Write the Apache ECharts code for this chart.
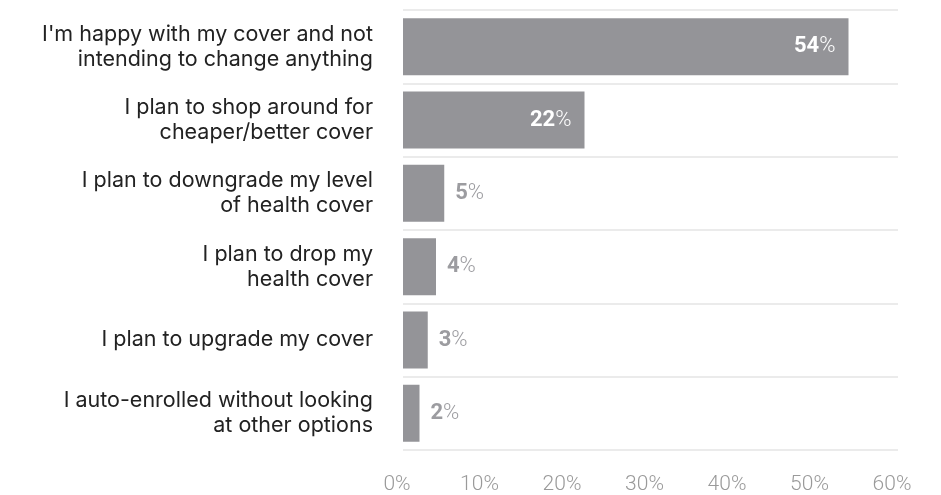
<!DOCTYPE html>
<html>
<head>
<meta charset="utf-8">
<script src="https://cdn.jsdelivr.net/npm/echarts@6/dist/echarts.min.js"></script>
<style>
  html, body { margin: 0; padding: 0; background: #ffffff; }
  #chart { width: 941px; height: 495px; }
</style>
</head>
<body>
<div id="chart"></div>
<script>
// Survey answers about private health cover plans
const categories = [
  "I'm happy with my cover and not\nintending to change anything",
  "I plan to shop around for\ncheaper/better cover",
  "I plan to downgrade my level\nof health cover",
  "I plan to drop my\nhealth cover",
  "I plan to upgrade my cover",
  "I auto-enrolled without looking\nat other options"
];
const shares = [54, 22, 5, 4, 3, 2];
const tickValues = [0, 10, 20, 30, 40, 50, 60];

const TEXT_FONT = 'Inter, Roboto, "Noto Sans", sans-serif';
const NUM_FONT = 'Roboto, Inter, sans-serif';
const BAR = '#949498';

// Long bars carry their label inside in white, short ones outside in grey
const barData = shares.map(v => {
  const inside = v >= 10;
  const c = inside ? '#ffffff' : '#9c9ca0';
  return {
    value: v,
    label: {
      position: inside ? 'insideRight' : 'right',
      distance: inside ? 13 : 11,
      rich: {
        n: { fontFamily: NUM_FONT, fontSize: 22, fontWeight: 'bold', color: c },
        p: { fontFamily: NUM_FONT, fontSize: 22, fontWeight: 300, color: c }
      }
    }
  };
});

const chart = echarts.init(document.getElementById('chart'), null, { renderer: 'canvas' });
chart.setOption({
  animation: false,
  backgroundColor: '#ffffff',
  grid: { left: 403, right: 43, top: 10, bottom: 42, containLabel: false },
  xAxis: {
    type: 'value',
    min: tickValues[0],
    max: tickValues[tickValues.length - 1],
    interval: tickValues[1] - tickValues[0],
    axisLine: { show: false },
    axisTick: { show: false },
    splitLine: { show: false },
    axisLabel: {
      formatter: '{value}%',
      fontFamily: NUM_FONT,
      fontSize: 21,
      fontWeight: 300,
      color: '#9a9a9a',
      margin: 24,
      padding: [0, 12, 0, 0]
    }
  },
  yAxis: {
    type: 'category',
    inverse: true,
    data: categories,
    axisLine: { show: false },
    axisTick: { show: false },
    splitLine: { show: true, lineStyle: { color: '#ebebeb', width: 2 } },
    axisLabel: {
      fontFamily: TEXT_FONT,
      fontSize: 21.5,
      lineHeight: 25,
      color: '#222222',
      margin: 30,
      align: 'right'
    }
  },
  series: [{
    type: 'bar',
    data: barData,
    barWidth: 57,
    itemStyle: { color: BAR },
    label: {
      show: true,
      formatter: p => '{n|' + p.value + '}{p|%}'
    }
  }]
});
</script>
</body>
</html>
